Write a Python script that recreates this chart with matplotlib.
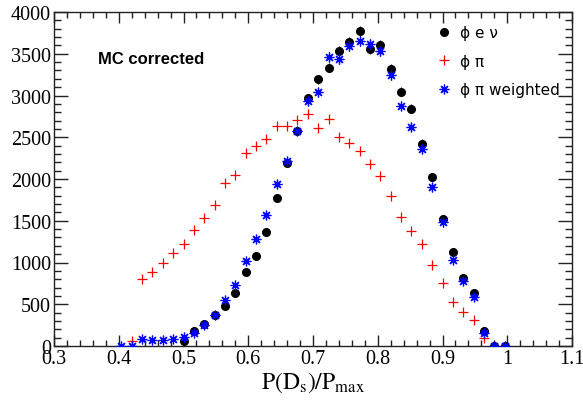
import numpy as np
import matplotlib
matplotlib.use("Agg")
import matplotlib.pyplot as plt
from matplotlib.ticker import MultipleLocator, FixedLocator
from matplotlib.lines import Line2D

# bin centres
x_all = [0.404 + 0.016 * k for k in range(38)]
x_all = [round(v, 3) for v in x_all]

# phi e nu (black circles), starts at 0.500
x_enu = x_all[6:]
y_enu = [60, 180, 260, 377, 481, 633, 882, 1074, 1371, 1768, 2192, 2577, 2966,
         3194, 3335, 3535, 3635, 3768, 3559, 3603, 3323, 3046, 2842, 2425,
         2020, 1515, 1130, 818, 633, 180, 0, 0]

# phi pi (red crosses), starts at 0.420
x_pi = x_all[1:36]
y_pi = [60, 800, 890, 990, 1110, 1222, 1391, 1535, 1687, 1956, 2044, 2309,
        2393, 2477, 2637, 2637, 2709, 2773, 2613, 2721, 2505, 2437, 2333,
        2184, 2036, 1800, 1543, 1375, 1222, 970, 753, 529, 409, 317, 92]

# phi pi weighted (blue asterisks)
x_w = x_all
y_w = [0, 0, 88, 72, 68, 80, 108, 160, 248, 369, 553, 729, 1022, 1283, 1571,
       1940, 2212, 2573, 2930, 3038, 3459, 3439, 3587, 3655, 3615, 3535, 3246,
       2874, 2621, 2365, 1900, 1483, 1034, 782, 589, 160, 0, 0]

x_ticks = [0.3, 0.4, 0.5, 0.6, 0.7, 0.8, 0.9, 1.0, 1.1]
x_ticklabels = ['0.3', '0.4', '0.5', '0.6', '0.7', '0.8', '0.9', '1', '1.1']
y_ticks = [0, 500, 1000, 1500, 2000, 2500, 3000, 3500, 4000]
y_ticklabels = ['0', '500', '1000', '1500', '2000', '2500', '3000', '3500', '4000']

legend_labels = ["\u03d5 e \u03bd", "\u03d5 \u03c0", "\u03d5 \u03c0 weighted"]

plt.rcParams['mathtext.fontset'] = 'stix'

fig = plt.figure(figsize=(5.83, 4.02), dpi=100)
ax = fig.add_axes([54/583, 1-347/402, (572-54)/583, (347-13)/402])

e_enu = np.sqrt(np.array(y_enu, float))
e_w = np.sqrt(np.array(y_w, float))

ax.errorbar(x_enu, y_enu, yerr=e_enu, fmt='o', color='black', ms=5.5,
            elinewidth=0.8, capsize=0, zorder=3)
ax.plot(x_pi, y_pi, '+', color='red', ms=7, mew=0.9, zorder=4)
ax.errorbar(x_w, y_w, yerr=e_w, fmt='none', ecolor='blue', elinewidth=0.8,
            capsize=0, zorder=5)
ax.plot(x_w, y_w, linestyle='none', marker=(8, 2, 0), color='blue', ms=7,
        mew=0.9, zorder=5)

ax.set_xlim(0.3, 1.1)
ax.set_ylim(0, 4000)
ax.set_xticks(x_ticks)
ax.set_xticklabels(x_ticklabels, fontfamily='Liberation Serif', fontsize=14.5)
ax.set_yticks(y_ticks)
ax.set_yticklabels(y_ticklabels, fontfamily='Liberation Serif', fontsize=14.5)
ax.xaxis.set_minor_locator(MultipleLocator(0.02))
ax.yaxis.set_minor_locator(MultipleLocator(100))
ax.tick_params(axis='both', which='both', direction='in', top=True, right=True,
               width=1.0, color='#222222')
ax.tick_params(axis='x', which='major', length=8, pad=2)
ax.tick_params(axis='x', which='minor', length=4.3)
ax.tick_params(axis='y', which='major', length=10, pad=2)
ax.tick_params(axis='y', which='minor', length=5)
for s in ax.spines.values():
    s.set_linewidth(1.0)
    s.set_color('#222222')

ax.set_xlabel(r'$\mathrm{P(D_s)/P_{max}}$', fontsize=17, labelpad=1)

ax.text(98/583, 1-60/402, 'MC corrected', transform=fig.transFigure,
        fontfamily='Liberation Sans', fontweight='bold', fontsize=12,
        va='center', ha='left')

handles = [Line2D([], [], linestyle='none', marker='o', color='black', ms=5.5),
           Line2D([], [], linestyle='none', marker='+', color='red', ms=7, mew=0.9),
           Line2D([], [], linestyle='none', marker=(8, 2, 0), color='blue', ms=7, mew=0.9)]
leg = ax.legend(handles, legend_labels, loc='upper left',
                bbox_to_anchor=(436/583, 1-26/402), bbox_transform=fig.transFigure,
                frameon=False, handlelength=1.0, handletextpad=0.6,
                labelspacing=0.9, borderpad=0, borderaxespad=0,
                prop={'family': 'DejaVu Sans', 'size': 11})

fig.savefig('out.png', dpi=100)
